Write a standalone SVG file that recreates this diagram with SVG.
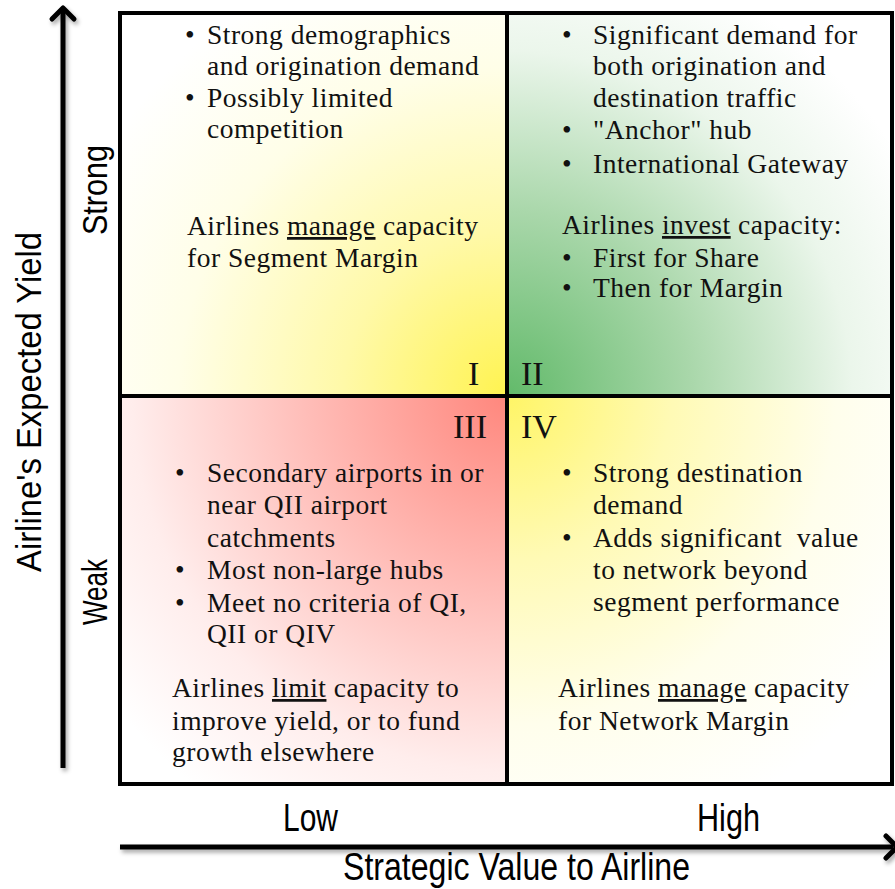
<svg xmlns="http://www.w3.org/2000/svg" width="895" height="889" viewBox="0 0 895 889">
  <style>
    .body { font-family: "Liberation Serif", "Times New Roman", serif; font-size: 27.5px; letter-spacing: 0.5px; fill: #111; }
    .num { font-family: "Liberation Serif", "Times New Roman", serif; font-size: 34px; fill: #111; }
    .axis { font-family: "Liberation Sans", Arial, sans-serif; font-size: 35px; fill: #000; }
    .axis-lg { font-family: "Liberation Sans", Arial, sans-serif; font-size: 38px; fill: #000; }
    .cell { stroke: #000; stroke-width: 4; }
    .u { text-decoration: underline; }
    .arrow { stroke: #000; stroke-width: 5; fill: none; stroke-linecap: butt; }
    .head { stroke: #000; stroke-width: 5; fill: none; stroke-linecap: round; stroke-linejoin: round; }
  </style>
  <defs>
    <radialGradient id="gQ1" gradientUnits="userSpaceOnUse" cx="507" cy="396" r="470">
      <stop offset="0" stop-color="#FFF350"/>
      <stop offset="0.35" stop-color="#FFF9A8"/>
      <stop offset="0.7" stop-color="#FFFEE8"/>
      <stop offset="1" stop-color="#FFFFFF"/>
    </radialGradient>
    <radialGradient id="gQ2" gradientUnits="userSpaceOnUse" cx="507" cy="396" r="460">
      <stop offset="0" stop-color="#62BA6A"/>
      <stop offset="0.4" stop-color="#A9D7AA"/>
      <stop offset="0.75" stop-color="#EBF6EB"/>
      <stop offset="1" stop-color="#FFFFFF"/>
    </radialGradient>
    <radialGradient id="gQ3" gradientUnits="userSpaceOnUse" cx="507" cy="396" r="500">
      <stop offset="0" stop-color="#FF877D"/>
      <stop offset="0.4" stop-color="#FFBDB8"/>
      <stop offset="0.75" stop-color="#FFEDEC"/>
      <stop offset="1" stop-color="#FFFFFF"/>
    </radialGradient>
    <radialGradient id="gQ4" gradientUnits="userSpaceOnUse" cx="507" cy="396" r="470">
      <stop offset="0" stop-color="#FFF566"/>
      <stop offset="0.35" stop-color="#FFFAB5"/>
      <stop offset="0.7" stop-color="#FFFEEC"/>
      <stop offset="1" stop-color="#FFFFFF"/>
    </radialGradient>
    <filter id="shadow" x="-5%" y="-5%" width="110%" height="110%">
      <feDropShadow dx="2" dy="3" stdDeviation="2" flood-color="#000" flood-opacity="0.35"/>
    </filter>
  </defs>

  <rect width="895" height="889" fill="#FFFFFF"/>

  <!-- Quadrant I: strong yield, low strategic value -->
  <g id="q1">
    <rect class="cell" x="120" y="13" width="387" height="383" fill="url(#gQ1)"/>
    <text class="body" x="185" y="44">•</text>
    <text class="body" x="207" y="44">Strong demographics</text>
    <text class="body" x="207" y="75">and origination demand</text>
    <text class="body" x="185" y="107">•</text>
    <text class="body" x="207" y="107">Possibly limited</text>
    <text class="body" x="207" y="138">competition</text>
    <text class="body" x="187" y="235">Airlines <tspan class="u">manage</tspan> capacity</text>
    <text class="body" x="187" y="267">for Segment Margin</text>
    <text class="num" x="468" y="385">I</text>
  </g>

  <!-- Quadrant II: strong yield, high strategic value -->
  <g id="q2">
    <rect class="cell" x="507" y="13" width="385" height="383" fill="url(#gQ2)"/>
    <text class="body" x="562" y="44">•</text>
    <text class="body" x="593" y="44">Significant demand for</text>
    <text class="body" x="593" y="75">both origination and</text>
    <text class="body" x="593" y="107">destination traffic</text>
    <text class="body" x="562" y="139">•</text>
    <text class="body" x="593" y="139">"Anchor" hub</text>
    <text class="body" x="562" y="173">•</text>
    <text class="body" x="593" y="173">International Gateway</text>
    <text class="body" x="562" y="234">Airlines <tspan class="u">invest</tspan> capacity:</text>
    <text class="body" x="562" y="267">•</text>
    <text class="body" x="593" y="267">First for Share</text>
    <text class="body" x="562" y="297">•</text>
    <text class="body" x="593" y="297">Then for Margin</text>
    <text class="num" x="521" y="385">II</text>
  </g>

  <!-- Quadrant III: weak yield, low strategic value -->
  <g id="q3">
    <rect class="cell" x="120" y="396" width="387" height="388" fill="url(#gQ3)"/>
    <text class="num" x="487" y="438" text-anchor="end">III</text>
    <text class="body" x="175" y="482">•</text>
    <text class="body" x="207" y="482">Secondary airports in or</text>
    <text class="body" x="207" y="514">near QII airport</text>
    <text class="body" x="207" y="547">catchments</text>
    <text class="body" x="175" y="579">•</text>
    <text class="body" x="207" y="579">Most non-large hubs</text>
    <text class="body" x="175" y="612">•</text>
    <text class="body" x="207" y="612">Meet no criteria of QI,</text>
    <text class="body" x="207" y="643">QII or QIV</text>
    <text class="body" x="172" y="697">Airlines <tspan class="u">limit</tspan> capacity to</text>
    <text class="body" x="172" y="730">improve yield, or to fund</text>
    <text class="body" x="172" y="761">growth elsewhere</text>
  </g>

  <!-- Quadrant IV: weak yield, high strategic value -->
  <g id="q4">
    <rect class="cell" x="507" y="396" width="385" height="388" fill="url(#gQ4)"/>
    <text class="num" x="521" y="438">IV</text>
    <text class="body" x="562" y="482">•</text>
    <text class="body" x="593" y="482">Strong destination</text>
    <text class="body" x="593" y="514">demand</text>
    <text class="body" x="562" y="547">•</text>
    <text class="body" x="593" y="547" xml:space="preserve">Adds significant  value</text>
    <text class="body" x="593" y="579">to network beyond</text>
    <text class="body" x="593" y="611">segment performance</text>
    <text class="body" x="558" y="697">Airlines <tspan class="u">manage</tspan> capacity</text>
    <text class="body" x="558" y="730">for Network Margin</text>
  </g>

  <!-- Axes -->
  <g id="axes" filter="url(#shadow)">
    <line class="arrow" x1="63" y1="768" x2="63" y2="8"/>
    <polyline class="head" points="52,19 63,8 74,19"/>
    <line class="arrow" x1="120" y1="847" x2="893" y2="847"/>
    <polyline class="head" points="886,836 897,847 886,858"/>
  </g>

  <!-- Axis labels -->
  <g id="labels">
    <text class="axis" transform="translate(41,402) rotate(-90)" text-anchor="middle" textLength="340" lengthAdjust="spacingAndGlyphs">Airline's Expected Yield</text>
    <text class="axis" transform="translate(107,190) rotate(-90)" text-anchor="middle" textLength="90" lengthAdjust="spacingAndGlyphs">Strong</text>
    <text class="axis" transform="translate(107,592) rotate(-90)" text-anchor="middle" textLength="66" lengthAdjust="spacingAndGlyphs">Weak</text>
    <text class="axis-lg" x="283" y="831" textLength="55" lengthAdjust="spacingAndGlyphs">Low</text>
    <text class="axis-lg" x="697" y="831" textLength="63" lengthAdjust="spacingAndGlyphs">High</text>
    <text class="axis-lg" x="343" y="880" textLength="347" lengthAdjust="spacingAndGlyphs">Strategic Value to Airline</text>
  </g>
</svg>
